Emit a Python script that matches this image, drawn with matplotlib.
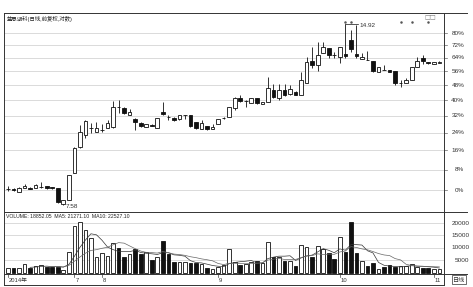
import numpy as np
import pandas as pd
import matplotlib
matplotlib.use('Agg')
import matplotlib.pyplot as plt
import matplotlib.transforms as mtransforms

plt.rcParams['font.family'] = ['Liberation Sans', 'Noto Sans CJK SC', 'DejaVu Sans']

title = '蓝思湖科(日线,前复权,对数)'
vol_header = 'VOLUME: 18852.05  MA5: 21271.10  MA10: 22527.10'

opens = [8.05, 8.06, 7.96, 8.08, 8.09, 8.08, 8.11, 8.14, 8.11, 8.08,
         7.61, 7.72, 8.55, 9.42, 9.85, 10.11, 9.96, 10.04, 10.11, 10.15,
         10.95, 10.90, 10.62, 10.46, 10.30, 10.15, 10.25, 10.11, 10.74, 10.54,
         10.50, 10.46, 10.62, 10.62, 10.34, 10.08, 10.19, 10.08, 10.27, 10.50,
         10.54, 10.90, 11.32, 11.19, 11.10, 11.32, 11.06, 11.15, 11.66, 11.32,
         11.66, 11.49, 11.57, 11.44, 11.97, 13.00, 12.81, 13.40, 13.65, 13.30,
         13.20, 13.34, 14.06, 13.34, 13.10, 13.06, 13.00, 12.47, 12.57, 12.57,
         12.52, 11.97, 11.97, 12.11, 12.71, 13.15, 12.95, 12.86, 12.90]
highs = [8.14, 8.08, 8.11, 8.20, 8.11, 8.20, 8.26, 8.14, 8.11, 8.08,
         7.73, 8.50, 9.42, 10.23, 10.42, 10.30, 10.34, 10.27, 10.42, 11.19,
         11.23, 10.94, 10.86, 10.50, 10.34, 10.27, 10.27, 10.50, 11.15, 10.62,
         10.54, 10.62, 10.64, 10.62, 10.34, 10.42, 10.19, 10.27, 10.46, 10.54,
         10.94, 11.36, 11.44, 11.23, 11.32, 11.32, 11.15, 12.24, 11.92, 11.92,
         11.92, 11.88, 11.62, 12.47, 13.20, 13.70, 13.96, 13.96, 13.65, 13.44,
         13.70, 14.92, 14.60, 14.88, 13.40, 13.49, 13.00, 12.71, 12.81, 12.57,
         12.52, 12.11, 12.20, 12.71, 13.20, 13.29, 12.95, 12.95, 13.00]
lows = [7.99, 7.99, 7.96, 8.08, 8.05, 8.08, 8.08, 8.06, 8.06, 7.64,
        7.58, 7.72, 8.55, 9.39, 9.74, 9.93, 9.96, 9.96, 10.11, 10.11,
        10.70, 10.66, 10.62, 10.04, 10.15, 10.15, 10.19, 10.11, 10.62, 10.42,
        10.38, 10.42, 10.46, 10.15, 10.08, 10.08, 10.04, 10.08, 10.27, 10.46,
        10.54, 10.82, 11.15, 10.94, 11.10, 11.06, 11.06, 11.15, 11.32, 11.23,
        11.40, 11.44, 11.44, 11.44, 11.97, 12.68, 12.52, 13.40, 13.15, 13.15,
        12.90, 13.15, 13.44, 13.15, 13.10, 13.05, 12.47, 12.47, 12.55, 12.47,
        11.88, 11.79, 11.97, 12.11, 12.71, 12.86, 12.86, 12.86, 12.90]
closes = [8.06, 8.02, 8.08, 8.14, 8.06, 8.17, 8.12, 8.08, 8.08, 7.67,
          7.72, 8.48, 9.39, 9.96, 10.38, 10.12, 10.11, 10.05, 10.30, 10.94,
          10.93, 10.70, 10.74, 10.34, 10.19, 10.27, 10.21, 10.50, 10.66, 10.53,
          10.42, 10.62, 10.63, 10.19, 10.11, 10.30, 10.08, 10.15, 10.46, 10.51,
          10.94, 11.32, 11.19, 11.20, 11.32, 11.10, 11.15, 11.75, 11.36, 11.66,
          11.44, 11.70, 11.44, 12.11, 12.95, 12.81, 13.29, 13.70, 13.29, 13.29,
          13.70, 13.25, 13.60, 13.25, 13.20, 13.05, 12.52, 12.71, 12.56, 12.47,
          11.97, 11.98, 12.11, 12.71, 13.00, 13.00, 12.90, 12.95, 12.93]
volumes = [1900, 1900, 1700, 3300, 1700, 2600, 3000, 2300, 2300, 2300,
           1100, 8200, 18800, 20400, 17200, 13800, 6100, 7800, 6700, 12000,
           10000, 6100, 7500, 9400, 7500, 8400, 5100, 6100, 12900, 7500,
           4200, 4200, 4200, 3800, 3800, 3400, 1700, 1500, 2300, 3000,
           9400, 4200, 3000, 3300, 4400, 4700, 3700, 12200, 6100, 6400,
           4700, 4500, 2800, 11100, 10500, 6400, 10900, 9400, 7800, 5500,
           14300, 8200, 20600, 7800, 4700, 2800, 3700, 1400, 2100, 3000,
           2100, 2700, 2700, 3300, 2100, 1900, 1900, 1600, 1600]

base_price = 8.02
pct_levels = [0, 8, 16, 24, 32, 40, 48, 56, 64, 72, 80]
vol_levels = [5000, 10000, 15000, 20000]
date_idx = [0, 12, 17, 38, 60, 77]
date_labels = ['2014年', '7', '8', '9', '10', '11']
signal_idx = [61, 62, 71, 73, 76]
high_idx, low_idx = 61, 10

W, H = 473, 287
fig = plt.figure(figsize=(W / 100, H / 100), dpi=100)

def px_axes(x0, y0, x1, y1):
    return fig.add_axes([x0 / W, 1 - y1 / H, (x1 - x0) / W, (y1 - y0) / H])

ax = px_axes(4, 13, 444, 212)
axv = px_axes(4, 212, 444, 274)
axd = px_axes(4, 274, 444, 285)

n = len(closes)
x = np.arange(n)
o, h, l, c = map(np.array, (opens, highs, lows, closes))
up = c >= o
xlim = (-0.72, 78.84)
edge = '#111111'
grid_c = '#d4d4d4'
txt_c = '#333333'
fs = 4.6
bw = 0.66

# --- price panel
ax.set_yscale('log')
ax.set_xlim(*xlim)
ax.set_ylim(7.39, 15.56)
for p in pct_levels:
    ax.axhline(base_price * (1 + p / 100), color=grid_c, lw=0.6, zorder=0)
ax.vlines(x, l, h, color=edge, lw=0.6, zorder=2)
body_lo = np.minimum(o, c)
body_h = np.maximum(np.abs(c - o), 0.004)
ax.bar(x[up], body_h[up], bottom=body_lo[up], width=bw,
       facecolor='white', edgecolor=edge, lw=0.6, zorder=3)
ax.bar(x[~up], body_h[~up], bottom=body_lo[~up], width=bw,
       facecolor=edge, edgecolor=edge, lw=0.6, zorder=3)
ax.set_xticks([])
ax.set_yticks([])
ax.yaxis.set_minor_locator(matplotlib.ticker.NullLocator())
trans = mtransforms.blended_transform_factory(ax.transAxes, ax.transData)
for p in pct_levels:
    yv = base_price * (1 + p / 100)
    ax.text(1.046, yv, f'{p}%', transform=trans, ha='right', va='center',
            fontsize=fs, color=txt_c, clip_on=False)
    ax.plot([1.0, 1.006], [yv, yv], transform=trans, color='#666666', lw=0.5, clip_on=False)

ax.text(0.006, 0.985, title, transform=ax.transAxes, ha='left', va='top',
        fontsize=3.9, color='#222222')
ax.plot([high_idx, high_idx + 2.3], [h[high_idx], h[high_idx]], color=edge, lw=0.5)
ax.text(high_idx + 2.5, h[high_idx] * 0.997, f'{h[high_idx]:.2f}', fontsize=fs,
        color=txt_c, ha='left', va='center')
ax.text(low_idx + 0.5, l[low_idx] * 0.997, f'{l[low_idx]:.2f}', fontsize=fs,
        color=txt_c, ha='left', va='center')
ax.plot(signal_idx, [15.05] * len(signal_idx), ls='none', marker='.',
        ms=1.6, color='#555555')
ax.text(0.982, 0.99, '□□', transform=ax.transAxes, ha='right', va='top',
        fontsize=4.5, color='#777777', family=['DejaVu Sans'])

# --- volume panel
vol = np.array(volumes, dtype=float)
axv.set_xlim(*xlim)
axv.set_ylim(-600, 24500)
for v in vol_levels:
    axv.axhline(v, color=grid_c, lw=0.6, zorder=0)
axv.bar(x[up], vol[up], width=bw, facecolor='white', edgecolor=edge, lw=0.6, zorder=3)
axv.bar(x[~up], vol[~up], width=bw, facecolor=edge, edgecolor=edge, lw=0.6, zorder=3)
vs = pd.Series(vol)
axv.plot(x, vs.rolling(5).mean(), color='#333333', lw=0.5, zorder=4)
axv.plot(x, vs.rolling(10).mean(), color='#666666', lw=0.5, zorder=4)
axv.set_xticks([])
axv.set_yticks([])
transv = mtransforms.blended_transform_factory(axv.transAxes, axv.transData)
for v in vol_levels:
    axv.text(1.058, v, str(v), transform=transv, ha='right', va='center',
             fontsize=fs, color=txt_c, clip_on=False)
axv.text(0.005, 0.96, vol_header, transform=axv.transAxes, ha='left', va='top',
         fontsize=3.7, color='#222222')

# --- date strip
axd.set_xlim(*xlim)
axd.set_ylim(0, 1)
axd.set_xticks([])
axd.set_yticks([])
for i, lab in zip(date_idx, date_labels):
    axd.plot([i, i], [0.7, 1.0], color='#444444', lw=0.5)
    axd.text(i + 0.2, 0.42, lab, fontsize=4.2, color=txt_c, ha='left', va='center')

for a in (ax, axv, axd):
    for s in a.spines.values():
        s.set_linewidth(0.7)
        s.set_color('#333333')

# frame lines running into the right label column
for yy in (13, 212, 274):
    fig.add_artist(plt.Line2D([444 / W, 467 / W], [1 - yy / H, 1 - yy / H],
                              color='#333333', lw=0.7))
fig.text(459 / W, 1 - 279.5 / H, '日线', fontsize=4.4, color=txt_c, ha='center', va='center',
         family=['Noto Sans CJK SC'],
         bbox=dict(boxstyle='square,pad=0.15', fc='white', ec='#333333', lw=0.5))

fig.savefig('out.png', dpi=100)
